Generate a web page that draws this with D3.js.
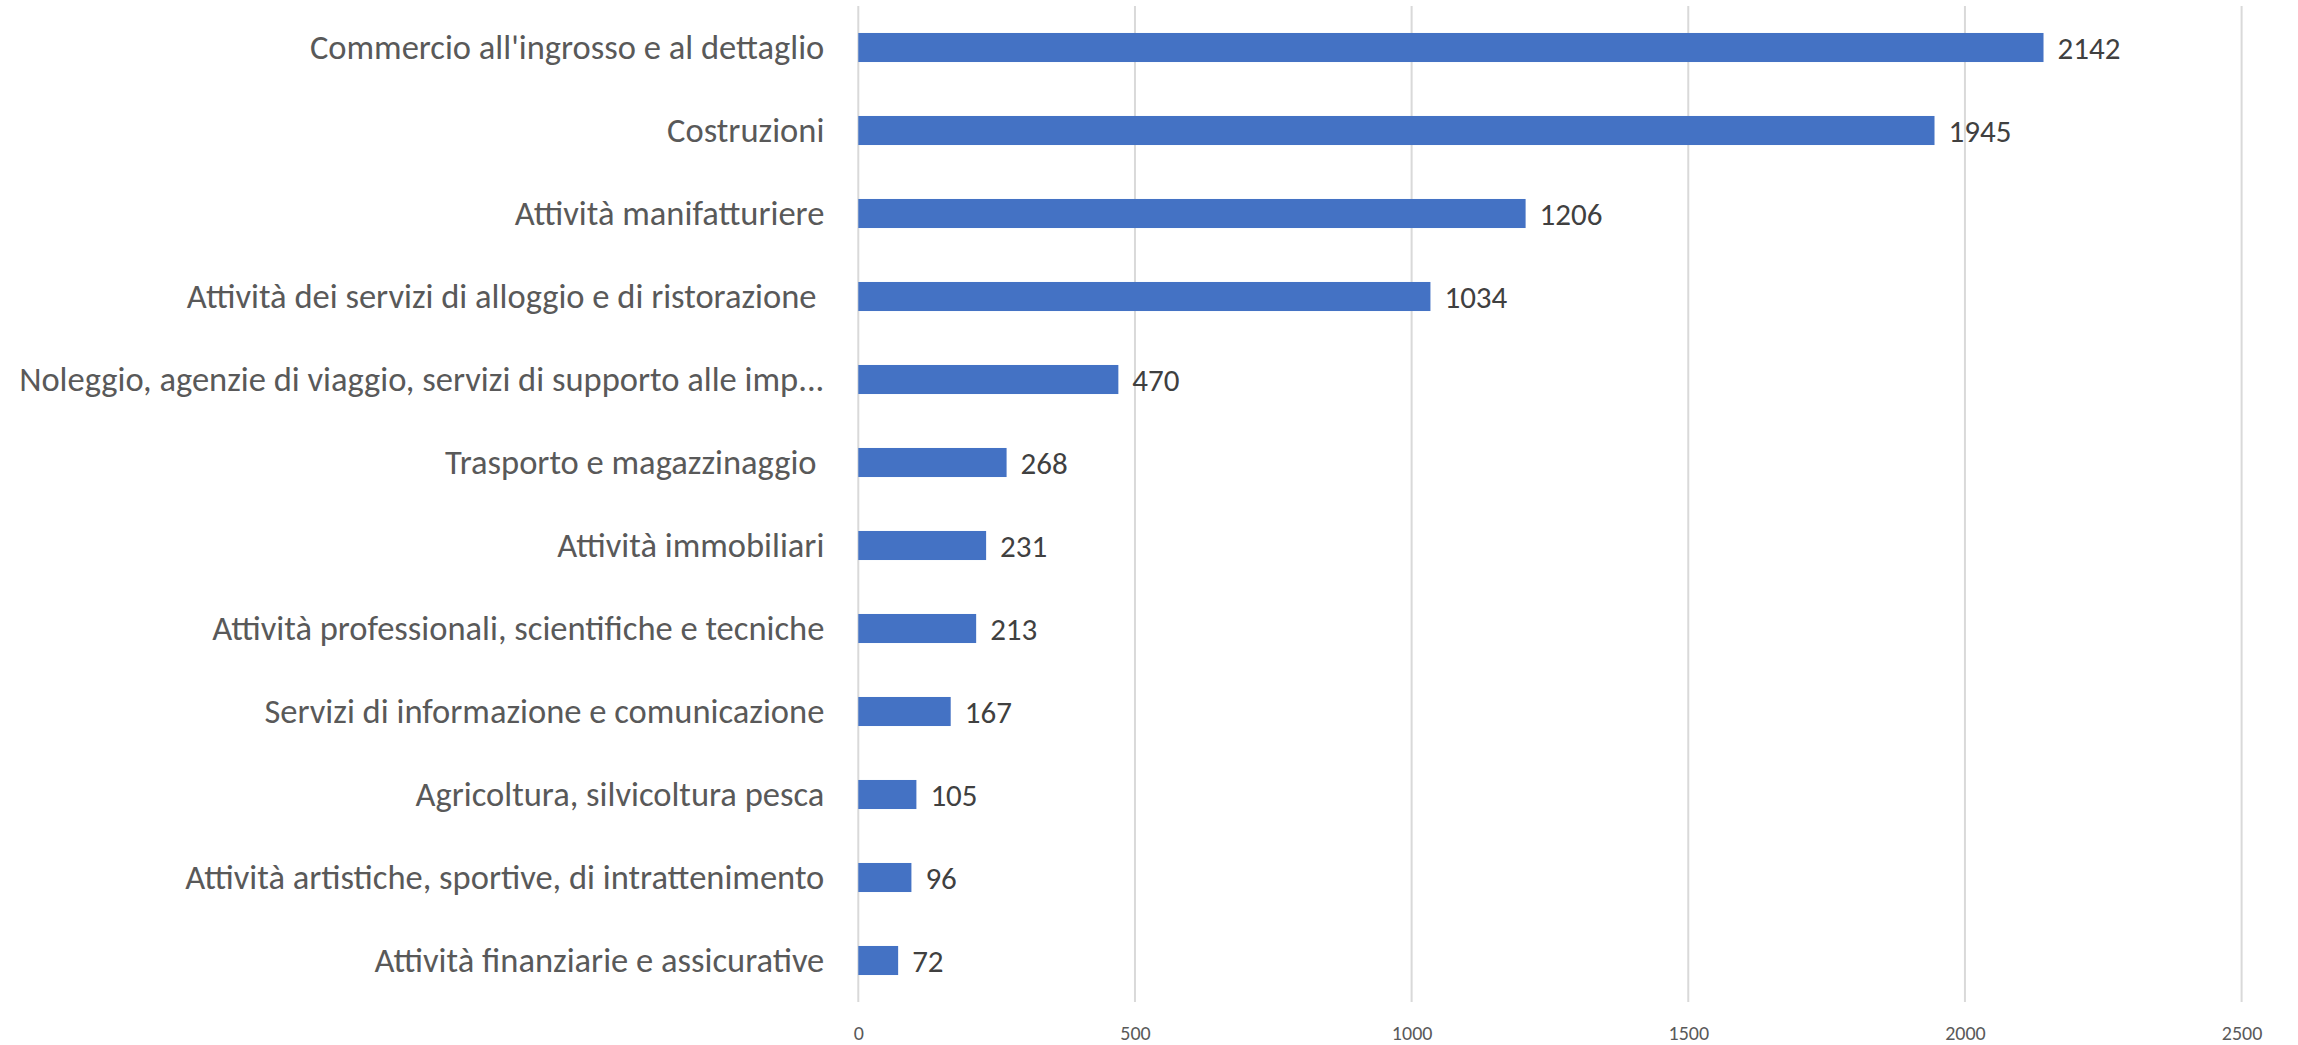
<!DOCTYPE html>
<html><head><meta charset="utf-8">
<script src="https://cdn.jsdelivr.net/npm/d3@7"></script>
<style>html,body{margin:0;padding:0;background:#fff;}</style>
</head><body>
<svg id="chart" width="2298" height="1045"></svg>
<script>
const categories = [
  "Commercio all'ingrosso e al dettaglio",
  "Costruzioni",
  "Attività manifatturiere",
  "Attività dei servizi di alloggio e di ristorazione ",
  "Noleggio, agenzie di viaggio, servizi di supporto alle imp...",
  "Trasporto e magazzinaggio ",
  "Attività immobiliari",
  "Attività professionali, scientifiche e tecniche",
  "Servizi di informazione e comunicazione",
  "Agricoltura, silvicoltura pesca",
  "Attività artistiche, sportive, di intrattenimento",
  "Attività finanziarie e assicurative"
];
const values = [2142, 1945, 1206, 1034, 470, 268, 231, 213, 167, 105, 96, 72];
const tickValues = [0, 500, 1000, 1500, 2000, 2500];

(function () {
const FONT = "Carlito, Lato, 'Open Sans', sans-serif";
const svg = d3.select("#chart");
const mLeft = 858.3, mRight = 2241.6, mTop = 6, mBottom = 1002;

const x = d3.scaleLinear().domain([0, 2500]).range([mLeft, mRight]);
const y = d3.scaleBand().domain(categories).range([mTop, mBottom]).paddingInner(0.65).paddingOuter(0.325);

// gridlines
svg.append("g").selectAll("line").data(tickValues).join("line")
  .attr("x1", d => x(d)).attr("x2", d => x(d))
  .attr("y1", mTop).attr("y2", mBottom)
  .attr("stroke", "#d9d9d9").attr("stroke-width", 2);

// tick labels
const xAxis = d3.axisBottom(x).tickValues(tickValues).tickFormat(d3.format("d")).tickSize(0).tickPadding(0);
const gx = svg.append("g").attr("transform", `translate(0,${mBottom})`).call(xAxis);
gx.select(".domain").remove();
gx.selectAll("text").attr("font-family", FONT).attr("font-size", 20).attr("fill", "#595959")
  .attr("dy", null).attr("y", 38);

// bars
svg.append("g").selectAll("rect").data(values).join("rect")
  .attr("x", x(0))
  .attr("y", (d, i) => y(categories[i]))
  .attr("width", d => x(d) - x(0))
  .attr("height", y.bandwidth())
  .attr("fill", "#4472C4");

// value labels
svg.append("g").selectAll("text").data(values).join("text")
  .attr("x", d => x(d) + 14)
  .attr("y", (d, i) => y(categories[i]) + y.bandwidth() / 2)
  .attr("dominant-baseline", "central")
  .attr("font-family", FONT).attr("font-size", 31).attr("fill", "#404040")
  .text(d => d);

// category labels
const yAxis = d3.axisLeft(y).tickSize(0).tickPadding(34);
const gy = svg.append("g").attr("transform", `translate(${mLeft},0)`).call(yAxis);
gy.select(".domain").remove();
gy.selectAll("text").attr("font-family", FONT).attr("font-size", 34.5).attr("fill", "#595959")
  .style("white-space", "pre").attr("xml:space", "preserve");
})();
</script>
</body></html>
